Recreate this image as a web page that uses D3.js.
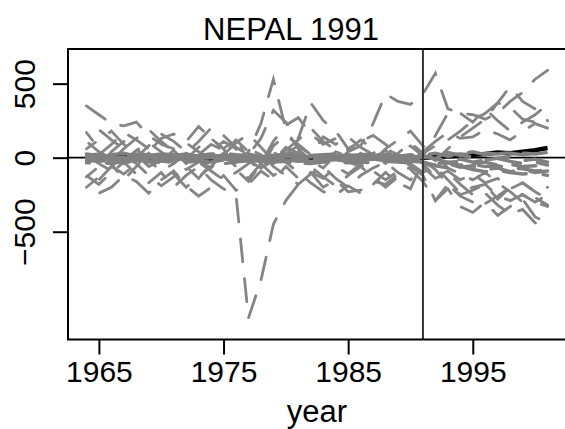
<!DOCTYPE html>
<html>
<head>
<meta charset="utf-8">
<script src="https://cdn.jsdelivr.net/npm/d3@7"></script>
<style>
  html, body { margin: 0; padding: 0; background: #fff; }
  svg { display: block; }
  text { font-family: "Liberation Sans", Arial, Helvetica, sans-serif; fill: #000; }
</style>
</head>
<body>
<svg id="chart" width="565" height="429"></svg>
<script>
// Years covered by the gap series
const years = [1964,1965,1966,1967,1968,1969,1970,1971,1972,1973,1974,1975,1976,1977,1978,1979,1980,1981,1982,1983,1984,1985,1986,1987,1988,1989,1990,1991,1992,1993,1994,1995,1996,1997,1998,1999,2000,2001];

const xTicks = [1965, 1975, 1985, 1995];
const yTicks = [-500, 0, 500];
const treatmentYear = 1991;
const titleText = "NEPAL 1991";
const xLabel = "year";

// Gap for the treated unit (Nepal)
const nepalGap = [0,-5,5,10,0,-10,-5,10,0,-15,-5,0,-10,5,0,-10,0,5,-5,0,10,-5,-10,0,5,-5,0, 0,5,10,15,20,25,35,30,40,50,65];

// Placebo gaps with a close pre-treatment fit
const placeboA = [10,5,15,0,-10,5,20,10,-5,0,10,15,5,-10,0,20,10,0,-5,5,15,10,0,5,10,0,-5, 0,15,20,25,20,30,25,35,30,25,35];
const placeboB = [-20,-25,-15,-30,-20,-10,-25,-15,-5,-20,-30,-15,-10,-25,-20,-5,-15,-25,-20,-10,-15,-25,-20,-10,-15,-20,-25, -30,-40,-35,-50,-45,-60,-55,-70,-75,-90,-85];
const placeboC = [-5,-15,0,-10,-20,-5,5,-10,-15,-5,0,-10,-20,-5,5,-10,-20,-15,-5,-10,-5,-15,-10,0,-5,-15,-10, -20,-10,-30,-25,-40,-30,-50,-45,-60,-55,-65];
const placeboD = [25,15,20,30,10,15,25,20,10,15,25,30,20,10,20,15,25,30,15,20,25,15,20,25,15,10,20, 15,30,10,25,40,20,35,30,20,30,25];
const placeboE = [-35,-30,-40,-25,-35,-30,-20,-35,-30,-25,-35,-40,-30,-20,-35,-30,-25,-35,-40,-30,-25,-35,-30,-35,-25,-30,-35, -40,-55,-70,-60,-80,-95,-85,-100,-110,-105,-120];
const placeboF = [0,10,-5,5,15,0,-10,5,10,0,-5,5,10,0,-10,5,0,-5,10,5,-5,0,10,5,-5,5,0, 10,-5,-20,-10,-30,-15,-5,-25,-40,-30,-50];
const placeboG = [-10,0,-20,-15,0,-25,-15,0,-10,-20,-15,-5,-25,-15,-10,-20,-5,-10,-25,-15,-5,-20,-15,-10,-20,-5,-10, -30,-50,-40,-65,-55,-80,-70,-95,-80,-100,-90];
const placeboH = [15,25,5,15,25,20,0,15,25,10,20,0,15,25,5,10,25,15,5,25,10,20,5,15,20,25,10, 5,20,35,15,5,-15,-5,10,-20,-10,-30];

// Placebo gaps with a loose pre-treatment fit
const placeboI = [350,290,230,215,240,150,90,60,100,40,-20,30,-10,60,20,-40,30,80,20,-30,40,10,-40,30,60,20,-20, 40,110,170,130,140,190,160,120,180,230,200];
const placeboJ = [170,60,-40,-150,-60,40,130,160,110,210,130,60,-80,-160,-40,110,220,270,160,90,130,50,120,60,-30,40,80, 10,150,300,300,240,330,250,180,240,290,360];
const placeboK = [-270,-240,-200,-120,-160,-240,-150,-90,-190,-260,-200,-120,-220,-180,-90,-150,-60,-140,-100,-200,-150,-230,-220,-160,-180,-110,-80, -160,-290,-210,-330,-370,-300,-390,-330,-280,-400,-440];
const placeboL = [-120,-180,-100,-30,-110,-170,-100,-200,-120,-60,-150,-210,-250,-1083,-830,-450,-290,-180,-100,-140,-60,-110,-40,-90,-150,-90,-40, -100,-60,-150,-240,-200,-180,-260,-290,-250,-300,-330];
const placeboM = [60,120,180,90,20,-60,-20,50,-40,20,90,50,-30,40,230,530,190,60,-20,-70,20,-40,30,-20,50,-30,20, -40,-130,-90,-150,-110,-170,-140,-210,-170,-230,-200];
const placeboN = [-50,20,90,170,120,60,20,-40,30,110,200,150,70,20,130,320,240,130,370,250,180,60,110,150,90,20,-30, 40,-20,60,140,200,260,370,480,380,330,250];
const placeboO = [20,-40,-90,-20,50,100,40,-30,-80,-30,40,110,60,-20,-70,-20,70,30,-40,20,-30,40,80,230,430,380,360, 430,570,330,300,290,260,300,380,440,530,590];
const placeboP = [-130,-60,40,110,60,-20,-90,-40,30,-30,-90,-150,-100,-40,30,-60,-120,-180,-110,-60,-140,-200,-120,-70,-30,-100,-150, -60,-140,-100,-180,-250,-310,-260,-200,-170,-230,-280];
const placeboQ = [-90,-150,-60,20,-40,-120,-190,-130,-60,-140,-40,20,-60,-140,-40,40,-30,-100,-170,-230,-250,-190,-240,-180,-100,-170,-210, -20,-80,-180,-260,-300,-240,-320,-380,-350,-440,-470];
const placeboR = [110,40,-20,60,130,190,110,40,-10,70,130,60,130,-20,-80,80,150,90,20,140,90,140,70,20,-40,30,100, 30,80,120,180,250,300,370,340,260,240,300];
const placeboS = [-200,-130,-60,-110,-40,30,-50,-110,-200,-130,-60,30,120,40,-40,-120,-70,40,-60,-130,-190,-120,-60,-130,-200,-130,-60, -120,-290,-180,-250,-220,-180,-280,-200,-250,-300,-250];
const placeboT = [130,190,120,60,0,80,160,110,40,-20,-70,20,100,160,70,-20,50,120,200,110,50,-30,-60,-20,60,120,180, 80,20,-70,-110,-150,-100,-170,-230,-300,-270,-320];

const loosePlacebos = [placeboI, placeboJ, placeboK, placeboL, placeboM, placeboN, placeboO, placeboP, placeboQ, placeboR, placeboS, placeboT];
const closePlacebos = [placeboA, placeboB, placeboC, placeboD, placeboE, placeboF, placeboG, placeboH];

// Plot frame
const frame = { left: 68, right: 566, top: 49, bottom: 339.5 };

const svg = d3.select("#chart");

const x = d3.scaleLinear()
  .domain([1962.52, 2002.48])
  .range([frame.left, frame.right]);

const y = d3.scaleLinear()
  .domain([-1228, 734])
  .range([frame.bottom, frame.top]);

const line = d3.line()
  .x((d, i) => x(years[i]))
  .y(d => y(d));

// Zero reference line, beneath the series
svg.append("line")
  .attr("x1", frame.left).attr("x2", frame.right)
  .attr("y1", y(0)).attr("y2", y(0))
  .attr("stroke", "#000")
  .attr("stroke-width", 1.8);

// Treated unit underneath the placebo lines
svg.append("path")
  .datum(nepalGap)
  .attr("d", line)
  .attr("fill", "none")
  .attr("stroke", "#000")
  .attr("stroke-width", 4.5)
  .attr("stroke-linejoin", "round");

// Placebo gaps, dashed grey
svg.append("g")
  .selectAll("path")
  .data(loosePlacebos)
  .join("path")
  .attr("d", line)
  .attr("fill", "none")
  .attr("stroke", "#858585")
  .attr("stroke-width", 2.8)
  .attr("stroke-linecap", "round")
  .attr("stroke-dasharray", "23,17")
  .attr("stroke-dashoffset", (d, i) => (i * 13) % 40);

svg.append("g")
  .selectAll("path")
  .data(closePlacebos)
  .join("path")
  .attr("d", line)
  .attr("fill", "none")
  .attr("stroke", "#808080")
  .attr("stroke-width", 3.4)
  .attr("stroke-linecap", "round")
  .attr("stroke-dasharray", "23,17")
  .attr("stroke-dashoffset", (d, i) => i * 5);

// Treatment year marker
svg.append("line")
  .attr("x1", x(treatmentYear)).attr("x2", x(treatmentYear))
  .attr("y1", frame.top).attr("y2", frame.bottom)
  .attr("stroke", "#333")
  .attr("stroke-width", 2);

// Box around the plotting region
svg.append("rect")
  .attr("x", frame.left).attr("y", frame.top)
  .attr("width", frame.right - frame.left)
  .attr("height", frame.bottom - frame.top)
  .attr("fill", "none")
  .attr("stroke", "#000")
  .attr("stroke-width", 2);

// Bottom axis
const xAxis = d3.axisBottom(x)
  .tickValues(xTicks)
  .tickFormat(d3.format("d"))
  .tickSize(15)
  .tickPadding(6);

const gx = svg.append("g")
  .attr("transform", `translate(0,${frame.bottom})`)
  .call(xAxis);
gx.select(".domain").remove();
gx.selectAll(".tick line").attr("stroke", "#000").attr("stroke-width", 2);
gx.selectAll(".tick text")
  .attr("font-size", 30)
  .attr("font-family", "Liberation Sans, Arial, sans-serif")
  .attr("fill", "#000")
  .attr("dy", null)
  .attr("y", 42);

// Left axis with rotated labels
const yAxis = d3.axisLeft(y)
  .tickValues(yTicks)
  .tickFormat(d3.format("d"))
  .tickSize(15);

const gy = svg.append("g")
  .attr("transform", `translate(${frame.left},0)`)
  .call(yAxis);
gy.select(".domain").remove();
gy.selectAll(".tick line").attr("stroke", "#000").attr("stroke-width", 2);
gy.selectAll(".tick text")
  .attr("font-size", 30)
  .attr("font-family", "Liberation Sans, Arial, sans-serif")
  .attr("fill", "#000")
  .attr("x", null).attr("dy", null)
  .attr("text-anchor", "middle")
  .attr("transform", "translate(-33,0) rotate(-90)");

// Title
svg.append("text")
  .attr("x", 291)
  .attr("y", 40)
  .attr("text-anchor", "middle")
  .attr("font-size", 31)
  .text(titleText);

// X axis title
svg.append("text")
  .attr("x", (frame.left + frame.right) / 2)
  .attr("y", 422)
  .attr("text-anchor", "middle")
  .attr("font-size", 31)
  .text(xLabel);
</script>
</body>
</html>
